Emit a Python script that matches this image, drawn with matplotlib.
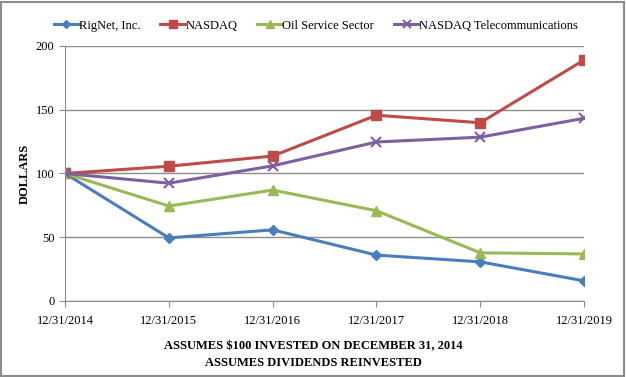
import matplotlib
matplotlib.use("Agg")
import matplotlib.pyplot as plt
from matplotlib.patches import Rectangle

plt.rcParams['font.family'] = ['Liberation Serif', 'DejaVu Serif']

# data
years = ["12/31/2014", "12/31/2015", "12/31/2016", "12/31/2017", "12/31/2018", "12/31/2019"]
rignet = [100, 49.5, 55.8, 36.0, 30.7, 15.8]
nasdaq = [100, 105.7, 113.7, 145.7, 139.8, 189.0]
oil_service = [100, 74.5, 87.0, 70.8, 37.8, 36.9]
nasdaq_telecom = [100, 92.4, 106.0, 124.7, 128.5, 143.3]

fig = plt.figure(figsize=(6.26, 3.77), dpi=100)
ax = fig.add_axes([0.104, 0.2016, 0.829, 0.6764])

x = list(range(len(years)))
ax.plot(x, rignet, color='#4A7EBB', lw=2.2, marker='D', ms=5.5, label='RigNet, Inc.')
ax.plot(x, nasdaq, color='#BE4B48', lw=2.2, marker='s', ms=7, label='NASDAQ')
ax.plot(x, oil_service, color='#98B954', lw=2.2, marker='^', ms=7, label='Oil Service Sector')
ax.plot(x, nasdaq_telecom, color='#7D60A0', lw=2.2, marker='x', ms=7, mew=1.5,
        label='NASDAQ Telecommunications')

ax.set_xlim(0, 5)
ax.set_ylim(0, 200)
ax.set_yticks([0, 50, 100, 150, 200])
ax.set_xticks(x)
ax.set_xticklabels(years)
ax.grid(axis='y', color='#8C8C8C', lw=1)
ax.set_axisbelow(True)
for s in ['top', 'right']:
    ax.spines[s].set_visible(False)
for s in ['left', 'bottom']:
    ax.spines[s].set_color('#8C8C8C')
ax.tick_params(axis='both', colors='#8C8C8C', labelcolor='black', labelsize=9, length=4)
ax.tick_params(axis='x', pad=6)
for lab in ax.get_xticklabels():
    lab.set_clip_on(False)

ax.set_ylabel('DOLLARS', fontsize=9, fontweight='bold', labelpad=4)

leg = ax.legend(loc='center', bbox_to_anchor=(0.483, 1.08), ncol=4, frameon=False,
                fontsize=9, handlelength=2.0, handletextpad=0.0, columnspacing=1.6,
                borderaxespad=0, markerscale=0.75)

fig.text(0.5, 0.083, 'ASSUMES $100 INVESTED ON DECEMBER 31, 2014', ha='center',
         va='center', fontsize=9, fontweight='bold')
fig.text(0.5, 0.038, 'ASSUMES DIVIDENDS REINVESTED', ha='center',
         va='center', fontsize=9, fontweight='bold')

fig.patches.append(Rectangle((0.002, 0.003), 0.995, 0.993, transform=fig.transFigure,
                             fill=False, edgecolor='#8C8C8C', lw=1.5))

fig.savefig('out.png', dpi=100)
